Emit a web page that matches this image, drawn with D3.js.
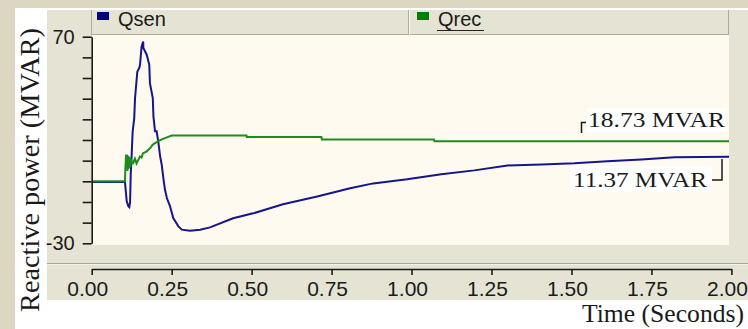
<!DOCTYPE html>
<html>
<head>
<meta charset="utf-8">
<script src="https://cdn.jsdelivr.net/npm/d3@7"></script>
<style>
  body { margin: 0; background: #dcd7c1; }
  svg { display: block; }
</style>
</head>
<body>
<div id="chart"></div>
<script>
var width = 748;
var height = 329;

// Qsen (sending end reactive power)
var qsenTime = [0, 0.104, 0.1095, 0.1145, 0.1176, 0.12, 0.122, 0.125, 0.128, 0.133, 0.1355, 0.1426,
  0.149, 0.151, 0.156, 0.161, 0.1615, 0.172, 0.18, 0.182, 0.191, 0.193, 0.198, 0.203, 0.208, 0.214,
  0.219, 0.224, 0.229, 0.235, 0.245, 0.255, 0.271, 0.282, 0.307, 0.339, 0.37, 0.442, 0.505, 0.598,
  0.705, 0.808, 0.88, 0.986, 1.093, 1.196, 1.3, 1.406, 1.509, 1.612, 1.719, 1.822, 2.0];
var qsenValue = [-0.3, -0.3, -9.7, -12, -12.5, -10, 3.4, 13, 24, 30.6, 40.3, 53, 55, 56.4, 65.3, 67.7,
  64.5, 61.3, 56.4, 47.5, 40.3, 31.4, 24.2, 24.2, 19.3, 12.1, 8, 1.6, -4, -8.1, -12.1, -17.8, -21.8,
  -23.4, -23.9, -23.4, -22.3, -17.9, -15.5, -11.1, -7.3, -3.4, -1, 1, 3.4, 5.3, 7.7, 8.2, 8.7, 9.7,
  10.6, 11.6, 11.9];

// Qrec (receiving end reactive power)
var qrecTime = [0, 0.104, 0.105, 0.1075, 0.109, 0.11, 0.112, 0.113, 0.115, 0.116, 0.118, 0.119, 0.121,
  0.123, 0.125, 0.129, 0.135, 0.14, 0.151, 0.156, 0.16, 0.172, 0.182, 0.192, 0.207, 0.219, 0.235, 0.25,
  0.484, 0.485, 0.718, 0.72, 1.07, 1.072, 2.0];
var qrecValue = [0, 0, 4.8, 13, 6, 13, 5, 12.5, 6, 12, 6.5, 11.5, 7, 11, 8.5, 8.7, 11, 8.7, 12, 11.5,
  13.5, 14.5, 16, 17.9, 19.3, 20.3, 21.3, 22.2, 22.2, 21.4, 21.4, 20.3, 20.3, 19.35, 19.35];

var xTicks = [0, 0.25, 0.5, 0.75, 1, 1.25, 1.5, 1.75, 2];
var yTicks = [-30, -20, -10, 0, 10, 20, 30, 40, 50, 60, 70];
var yLabelled = [-30, 70];
var seriesNames = ["Qsen", "Qrec"];
var seriesColors = ["#15158c", "#1d8c1d"];
var swatchColors = ["#000080", "#007f00"];
var endLabels = ["18.73 MVAR", "11.37 MVAR"];

var svg = d3.select("#chart").append("svg")
  .attr("width", width)
  .attr("height", height);

// backgrounds
svg.append("rect").attr("x", 15).attr("y", 8).attr("width", width - 15).attr("height", height - 8).attr("fill", "#ffffff");
svg.append("rect").attr("x", 47).attr("y", 10).attr("width", width - 47).attr("height", 290).attr("fill", "#e5e4d4");

var xScale = d3.scaleLinear().domain([0, 2]).range([91.7, 731.4]);
var yScale = d3.scaleLinear().domain([-30, 70]).range([243.3, 36.7]);

// plot area
svg.append("rect").attr("x", 92).attr("y", 35).attr("width", 637).attr("height", 210).attr("fill", "#fffaf0");

svg.append("clipPath").attr("id", "clip")
  .append("rect").attr("x", 92).attr("y", 35).attr("width", 637).attr("height", 210);

// legend bar
var legend = svg.append("g");
legend.append("line").attr("x1", 92).attr("x2", 729).attr("y1", 34.5).attr("y2", 34.5).attr("stroke", "#aeac98");
legend.append("line").attr("x1", 91.5).attr("x2", 91.5).attr("y1", 10).attr("y2", 35).attr("stroke", "#aeac98");
legend.append("line").attr("x1", 408.5).attr("x2", 408.5).attr("y1", 10).attr("y2", 35).attr("stroke", "#aeac98");
legend.append("line").attr("x1", 409.5).attr("x2", 409.5).attr("y1", 10).attr("y2", 35).attr("stroke", "#fbfbf5");
legend.append("line").attr("x1", 728.5).attr("x2", 728.5).attr("y1", 10).attr("y2", 35).attr("stroke", "#aeac98");

var legendX = [97, 417];
seriesNames.forEach(function (name, i) {
  legend.append("rect")
    .attr("x", legendX[i]).attr("y", 12).attr("width", 12).attr("height", 8)
    .attr("fill", swatchColors[i]);
  legend.append("text")
    .attr("x", legendX[i] + 21).attr("y", 26)
    .attr("font-family", "Liberation Sans, Arial, sans-serif")
    .attr("font-size", 20)
    .attr("fill", "#1a1a1a")
    .text(name);
});
// the selected series name is underlined
legend.append("line").attr("x1", 437).attr("x2", 484).attr("y1", 30.5).attr("y2", 30.5)
  .attr("stroke", "#222").attr("stroke-width", 1.2);

// series
var lineGen = d3.line()
  .x(function (d) { return xScale(d[0]); })
  .y(function (d) { return yScale(d[1]); });

var lines = svg.append("g").attr("clip-path", "url(#clip)");
var series = [
  d3.zip(qsenTime, qsenValue),
  d3.zip(qrecTime, qrecValue)
];
// draw Qsen first, Qrec over it
series.forEach(function (pts, i) {
  lines.append("path")
    .datum(pts)
    .attr("fill", "none")
    .attr("stroke", seriesColors[i])
    .attr("stroke-width", 2)
    .attr("d", lineGen);
});

// y axis
var yAxis = d3.axisLeft(yScale)
  .tickValues(yTicks)
  .tickSize(9)
  .tickSizeOuter(0)
  .tickPadding(8)
  .tickFormat(function (d) { return yLabelled.indexOf(d) >= 0 ? d : ""; });

svg.append("g")
  .attr("transform", "translate(91.7,0)")
  .call(yAxis)
  .call(function (g) {
    g.selectAll("line, path").attr("stroke", "#1a1a1a").attr("stroke-width", 1.6);
    g.selectAll("text")
      .attr("font-family", "Liberation Sans, Arial, sans-serif")
      .attr("font-size", 20)
      .attr("fill", "#1a1a1a");
  });

// separator above the time axis
svg.append("line").attr("x1", 47).attr("x2", width).attr("y1", 263.5).attr("y2", 263.5).attr("stroke", "#a9a795");
svg.append("line").attr("x1", 47).attr("x2", width).attr("y1", 264.5).attr("y2", 264.5).attr("stroke", "#f4f3ea");

// x axis
var xAxis = d3.axisBottom(xScale)
  .tickValues(xTicks)
  .tickSize(6)
  .tickSizeOuter(0)
  .tickPadding(6)
  .tickFormat(d3.format(".2f"));

svg.append("g")
  .attr("transform", "translate(0,269)")
  .call(xAxis)
  .call(function (g) {
    g.selectAll("line, path").attr("stroke", "#1a1a1a").attr("stroke-width", 1.6);
    g.selectAll("text")
      .attr("font-family", "Liberation Sans, Arial, sans-serif")
      .attr("font-size", 21)
      .attr("fill", "#1a1a1a")
      .attr("dx", -4.5);
  });

// axis titles
svg.append("text")
  .attr("transform", "translate(39,170) rotate(-90)")
  .attr("text-anchor", "middle")
  .attr("font-family", "Liberation Serif, Times New Roman, serif")
  .attr("font-size", 28)
  .attr("textLength", 284)
  .attr("lengthAdjust", "spacingAndGlyphs")
  .attr("fill", "#1a1a1a")
  .text("Reactive power (MVAR)");

svg.append("text")
  .attr("x", 582).attr("y", 321.5)
  .attr("font-family", "Liberation Serif, Times New Roman, serif")
  .attr("font-size", 25)
  .attr("textLength", 162)
  .attr("lengthAdjust", "spacingAndGlyphs")
  .attr("fill", "#1a1a1a")
  .text("Time (Seconds)");

// end value annotations
var ann = svg.append("g");
ann.append("rect").attr("x", 587).attr("y", 108).attr("width", 140).attr("height", 24).attr("fill", "#ffffff");
ann.append("text")
  .attr("x", 588).attr("y", 127)
  .attr("font-family", "Liberation Serif, Times New Roman, serif")
  .attr("font-size", 21)
  .attr("textLength", 137)
  .attr("lengthAdjust", "spacingAndGlyphs")
  .attr("fill", "#1a1a1a")
  .text(endLabels[0]);
ann.append("path")
  .attr("d", "M581.5,133V122.5H586")
  .attr("fill", "none").attr("stroke", "#1a1a1a").attr("stroke-width", 1.5);

ann.append("rect").attr("x", 570).attr("y", 166).attr("width", 142).attr("height", 26).attr("fill", "#ffffff");
ann.append("text")
  .attr("x", 573).attr("y", 187.3)
  .attr("font-family", "Liberation Serif, Times New Roman, serif")
  .attr("font-size", 21)
  .attr("textLength", 134)
  .attr("lengthAdjust", "spacingAndGlyphs")
  .attr("fill", "#1a1a1a")
  .text(endLabels[1]);
ann.append("path")
  .attr("d", "M722,159V180H712")
  .attr("fill", "none").attr("stroke", "#1a1a1a").attr("stroke-width", 1.5);
</script>
</body>
</html>
